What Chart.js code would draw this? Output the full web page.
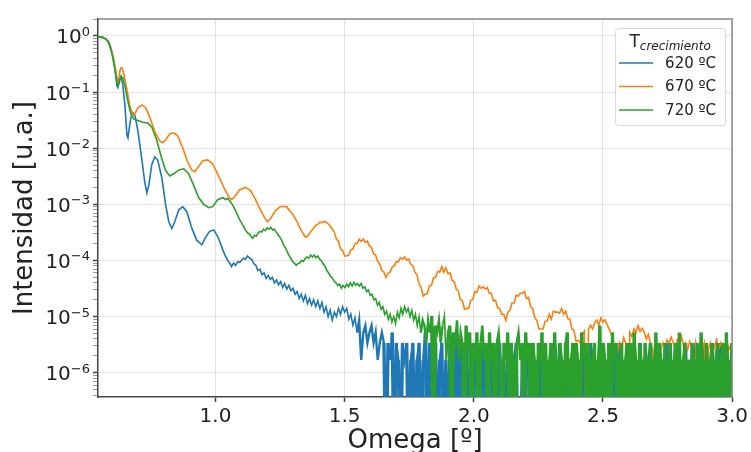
<!DOCTYPE html>
<html lang="es">
<head>
<meta charset="UTF-8">
<title>Reflectividad XRR</title>
<script src="https://cdn.jsdelivr.net/npm/chart.js"></script>
<style>
    html, body {
        margin: 0;
        padding: 0;
        background: #fff;
        overflow: hidden;
    }

    #wrap {
        width: 751px;
        height: 460px;
    }
</style>
</head>
<body>
<div id="wrap"><canvas id="xrr"></canvas></div>
<script>
    // Series: temperatura de crecimiento
    const seriesNames = ['620 ºC', '670 ºC', '720 ºC'];
    const seriesColors = ['#1f77b4', '#ff7f0e', '#2ca02c'];

    // Ejes
    const xTickValues = [1.0, 1.5, 2.0, 2.5, 3.0];
    const xTickLabels = ['1.0', '1.5', '2.0', '2.5', '3.0'];
    const yTickValues = [1e-6, 1e-5, 1e-4, 1e-3, 1e-2, 1e-1, 1];
    const yTickBase = '10';
    const yTickExponents = ['−6', '−5', '−4', '−3', '−2', '−1', '0'];
    const yMinorSteps = [2, 3, 4, 5, 6, 7, 8, 9];

    // Zona de franjas de Kiessig: pares [omega, intensidad]
    const head620 = [
        [0.545, 0.96], [0.568, 0.92], [0.584, 0.81], [0.595, 0.61], [0.607, 0.34], [0.615, 0.18],
        [0.618, 0.13], [0.622, 0.12], [0.626, 0.15], [0.634, 0.19], [0.641, 0.134], [0.649, 0.059],
        [0.657, 0.0173], [0.661, 0.0153], [0.665, 0.021], [0.672, 0.035], [0.680, 0.043], [0.688, 0.038],
        [0.699, 0.021], [0.715, 0.0062], [0.726, 0.0025], [0.734, 0.0016], [0.742, 0.0022], [0.753, 0.0051],
        [0.765, 0.0070], [0.776, 0.0062], [0.792, 0.0030], [0.807, 0.00098], [0.819, 0.00049], [0.831, 0.00037],
        [0.842, 0.00049], [0.858, 0.00080], [0.873, 0.00091], [0.889, 0.00074], [0.908, 0.00038], [0.927, 0.00023],
        [0.947, 0.00019], [0.962, 0.00026], [0.977, 0.00033], [0.993, 0.00035], [1.008, 0.00027], [1.016, 0.00022],
        [1.028, 0.000156], [1.035, 0.00013], [1.047, 0.0001], [1.055, 0.00009], [1.062, 0.000078], [1.070, 0.00009],
        [1.078, 0.000082], [1.086, 0.000095], [1.094, 0.000092]
    ];
    const head670 = [
        [0.545, 0.96], [0.560, 0.96], [0.576, 0.88], [0.587, 0.75], [0.599, 0.52], [0.611, 0.29],
        [0.618, 0.18], [0.622, 0.15], [0.626, 0.18], [0.630, 0.24], [0.634, 0.27], [0.638, 0.27],
        [0.645, 0.21], [0.657, 0.11], [0.669, 0.054], [0.680, 0.039], [0.688, 0.041], [0.699, 0.052],
        [0.715, 0.059], [0.730, 0.052], [0.746, 0.035], [0.765, 0.0196], [0.784, 0.0135], [0.796, 0.0125],
        [0.807, 0.0141], [0.823, 0.018], [0.838, 0.0188], [0.854, 0.0166], [0.873, 0.0102], [0.892, 0.0057],
        [0.908, 0.0041], [0.920, 0.0038], [0.931, 0.0045], [0.951, 0.006], [0.970, 0.0062], [0.989, 0.0053],
        [1.008, 0.0035], [1.032, 0.002], [1.051, 0.00136], [1.062, 0.00121], [1.074, 0.00136], [1.093, 0.0018],
        [1.116, 0.002], [1.136, 0.00175], [1.155, 0.00121], [1.174, 0.0008], [1.190, 0.00058], [1.201, 0.00049],
        [1.213, 0.00056], [1.232, 0.00077], [1.251, 0.00091], [1.275, 0.00091], [1.294, 0.00071]
    ];
    const head720 = [
        [0.545, 0.96], [0.560, 0.96], [0.576, 0.88], [0.587, 0.75], [0.599, 0.48], [0.611, 0.25],
        [0.618, 0.15], [0.622, 0.13], [0.626, 0.14], [0.630, 0.17], [0.634, 0.19], [0.641, 0.18],
        [0.649, 0.13], [0.661, 0.067], [0.672, 0.041], [0.684, 0.033], [0.699, 0.031], [0.719, 0.029],
        [0.738, 0.028], [0.753, 0.024], [0.772, 0.0141], [0.792, 0.0065], [0.807, 0.004], [0.823, 0.0032],
        [0.838, 0.0035], [0.858, 0.0041], [0.877, 0.0043], [0.896, 0.0035], [0.915, 0.0022], [0.935, 0.00131],
        [0.954, 0.001], [0.974, 0.00087], [0.989, 0.00091], [1.008, 0.00121], [1.028, 0.00131], [1.040, 0.00122],
        [1.047, 0.00128], [1.058, 0.0011], [1.066, 0.00098], [1.076, 0.0008], [1.085, 0.00065], [1.095, 0.00052],
        [1.105, 0.00043], [1.114, 0.00036], [1.124, 0.00031]
    ];

    // Colas ruidosas, muestreadas con paso fijo en omega (0 = sin cuentas)
    const tail620Start = 1.10, tail620Step = 0.008;
    const tail620 = [
        1.0e-4, 1.1e-4, 1.05e-4, 1.2e-4, 1.1e-4, 1.05e-4, 8.8e-5, 8.2e-5, 6.6e-5, 7.0e-5,
        5.6e-5, 6.0e-5, 4.8e-5, 5.4e-5, 4.6e-5, 5.0e-5, 4.0e-5, 4.5e-5, 3.7e-5, 4.2e-5,
        3.3e-5, 3.9e-5, 3.1e-5, 3.6e-5, 2.9e-5, 3.2e-5, 2.5e-5, 2.8e-5, 2.1e-5, 2.5e-5,
        1.9e-5, 2.4e-5, 1.7e-5, 2.1e-5, 1.6e-5, 2.0e-5, 1.5e-5, 1.9e-5, 1.4e-5, 1.8e-5,
        1.2e-5, 1.5e-5, 1.0e-5, 1.3e-5, 8.6e-6, 1.2e-5, 1.0e-5, 1.4e-5, 1.1e-5, 1.5e-5,
        1.2e-5, 1.4e-5, 9.0e-6, 1.1e-5, 7.0e-6, 9.5e-6, 5.2e-6, 8.6e-6, 1.7e-6, 5.2e-6,
        6.9e-6, 3.4e-6, 5.2e-6, 6.9e-6, 3.4e-6, 5.2e-6, 1.7e-6, 3.4e-6, 5.2e-6, 3.4e-6,
        0, 3.4e-6, 1.7e-6, 5.2e-6, 0, 3.4e-6, 1.7e-6, 0, 3.4e-6, 1.7e-6,
        3.4e-6, 0, 1.7e-6, 3.4e-6, 0, 1.7e-6, 3.4e-6, 0, 1.7e-6, 5.2e-6,
        0, 3.4e-6, 0, 1.7e-6, 3.4e-6, 0, 1.7e-6, 3.4e-6, 0, 1.7e-6,
        0, 3.4e-6, 1.7e-6, 0, 5.2e-6, 0, 3.4e-6, 1.7e-6, 0, 3.4e-6,
        0, 1.7e-6, 0, 3.4e-6, 1.7e-6, 0, 1.7e-6, 3.4e-6, 0, 0,
        1.7e-6, 3.4e-6, 0, 1.7e-6, 0, 3.4e-6, 0, 1.7e-6, 0, 3.4e-6,
        1.7e-6, 0, 1.7e-6, 3.4e-6, 0, 0, 1.7e-6, 0, 3.4e-6, 1.7e-6,
        0, 3.4e-6, 0, 1.7e-6, 0, 3.4e-6, 1.7e-6, 0, 1.7e-6, 0,
        3.4e-6, 0, 1.7e-6, 0, 3.4e-6, 0, 1.7e-6, 0, 1.7e-6, 1.7e-6,
        0, 3.4e-6, 0, 1.7e-6, 0, 3.4e-6, 0, 1.7e-6, 0, 3.4e-6,
        1.7e-6, 0, 1.7e-6, 0, 3.4e-6, 0, 1.7e-6, 0, 3.4e-6, 0,
        1.7e-6, 0, 1.7e-6, 3.4e-6, 0, 1.7e-6, 0, 3.4e-6, 0, 1.7e-6,
        0, 1.7e-6, 0, 3.4e-6, 0, 1.7e-6, 0, 1.7e-6, 3.4e-6, 0,
        1.7e-6, 0, 3.4e-6, 0, 1.7e-6, 0, 3.4e-6, 0, 1.7e-6, 0,
        3.4e-6, 1.7e-6, 0, 1.7e-6, 0, 3.4e-6, 0, 1.7e-6, 0, 1.7e-6,
        3.4e-6, 0, 1.7e-6, 0, 3.4e-6, 0, 1.7e-6, 0, 3.4e-6, 0,
        1.7e-6, 0, 3.4e-6
    ];

    const tail670Start = 1.30, tail670Step = 0.008;
    const tail670 = [
        6.6e-4, 5.6e-4, 4.9e-4, 4.0e-4, 3.4e-4, 3.0e-4, 2.6e-4, 2.7e-4, 3.0e-4, 3.4e-4,
        3.8e-4, 4.2e-4, 4.4e-4, 4.8e-4, 4.7e-4, 5.0e-4, 4.8e-4, 4.5e-4, 4.1e-4, 3.6e-4,
        3.2e-4, 2.4e-4, 2.2e-4, 1.6e-4, 1.5e-4, 1.2e-4, 1.2e-4, 1.25e-4, 1.55e-4, 1.6e-4,
        2.0e-4, 2.0e-4, 2.4e-4, 2.2e-4, 2.4e-4, 2.1e-4, 2.2e-4, 1.8e-4, 1.7e-4, 1.3e-4,
        1.25e-4, 9.5e-5, 8.6e-5, 6.6e-5, 6.2e-5, 5.0e-5, 5.9e-5, 6.2e-5, 7.6e-5, 8.0e-5,
        9.6e-5, 9.4e-5, 1.12e-4, 1.05e-4, 1.15e-4, 1.02e-4, 1.06e-4, 8.6e-5, 8.0e-5, 6.2e-5,
        5.5e-5, 3.8e-5, 3.3e-5, 2.3e-5, 2.5e-5, 2.6e-5, 3.5e-5, 3.6e-5, 4.9e-5, 5.0e-5,
        6.4e-5, 6.2e-5, 7.8e-5, 6.2e-5, 7.4e-5, 5.8e-5, 6.0e-5, 4.4e-5, 4.2e-5, 3.1e-5,
        2.9e-5, 2.0e-5, 1.9e-5, 1.35e-5, 1.4e-5, 1.4e-5, 1.95e-5, 2.0e-5, 2.8e-5, 2.7e-5,
        3.5e-5, 3.2e-5, 3.4e-5, 3.1e-5, 3.3e-5, 2.6e-5, 2.6e-5, 1.9e-5, 1.95e-5, 1.45e-5,
        1.4e-5, 1.1e-5, 1.1e-5, 8.5e-6, 1.2e-5, 1.3e-5, 1.75e-5, 1.75e-5, 2.4e-5, 2.3e-5,
        2.6e-5, 2.6e-5, 2.8e-5, 2.1e-5, 2.2e-5, 1.5e-5, 1.4e-5, 9.5e-6, 8.6e-6, 6.0e-6,
        6.0e-6, 6.0e-6, 8.2e-6, 8.4e-6, 1.1e-5, 9.0e-6, 1.25e-5, 1.2e-5, 1.2e-5, 1.15e-5,
        1.4e-5, 1.1e-5, 1.25e-5, 9.2e-6, 9.0e-6, 6.0e-6, 5.6e-6, 3.6e-6, 3.8e-6, 3.4e-6,
        4.8e-6, 5.5e-6, 0, 6.0e-6, 7.0e-6, 6.0e-6, 7.8e-6, 8.6e-6, 7.0e-6, 9.5e-6,
        8.0e-6, 8.8e-6, 7.2e-6, 6.0e-6, 5.0e-6, 3.4e-6, 2.6e-6, 2.2e-6, 3.4e-6, 2.6e-6,
        4.2e-6, 3.4e-6, 0, 5.2e-6, 4.4e-6, 6.0e-6, 5.2e-6, 6.9e-6, 5.5e-6, 6.2e-6,
        5.2e-6, 4.0e-6, 4.8e-6, 3.4e-6, 2.6e-6, 0, 2.2e-6, 1.9e-6, 2.6e-6, 3.4e-6,
        2.9e-6, 3.8e-6, 3.4e-6, 4.3e-6, 3.4e-6, 2.6e-6, 3.9e-6, 3.4e-6, 4.4e-6, 3.0e-6,
        3.4e-6, 2.6e-6, 3.6e-6, 2.9e-6, 0, 3.4e-6, 2.4e-6, 3.2e-6, 2.6e-6, 3.4e-6,
        0, 2.6e-6, 3.4e-6, 2.2e-6, 3.0e-6, 3.9e-6, 2.6e-6, 3.4e-6, 2.4e-6, 3.0e-6,
        3.4e-6, 2.6e-6, 3.2e-6
    ];

    const tail720Start = 1.13, tail720Step = 0.007;
    const tail720 = [
        3.0e-4, 2.7e-4, 2.5e-4, 2.8e-4, 2.7e-4, 3.1e-4, 3.3e-4, 3.2e-4, 3.6e-4, 3.4e-4,
        3.8e-4, 3.6e-4, 3.9e-4, 3.5e-4, 3.6e-4, 3.2e-4, 2.9e-4, 2.6e-4, 2.3e-4, 1.9e-4,
        1.7e-4, 1.45e-4, 1.25e-4, 1.1e-4, 9.6e-5, 9.0e-5, 8.2e-5, 8.8e-5, 9.0e-5, 1.0e-4,
        9.6e-5, 1.08e-4, 1.15e-4, 1.1e-4, 1.25e-4, 1.15e-4, 1.25e-4, 1.12e-4, 1.2e-4, 1.05e-4,
        1.0e-4, 8.6e-5, 8.0e-5, 6.6e-5, 6.0e-5, 5.2e-5, 4.9e-5, 4.3e-5, 4.0e-5, 3.6e-5,
        3.8e-5, 3.2e-5, 3.6e-5, 3.3e-5, 3.8e-5, 3.4e-5, 4.0e-5, 3.5e-5, 4.1e-5, 3.6e-5,
        3.9e-5, 3.5e-5, 3.9e-5, 3.2e-5, 3.4e-5, 2.8e-5, 3.0e-5, 2.4e-5, 2.5e-5, 2.0e-5,
        2.1e-5, 1.6e-5, 1.8e-5, 1.35e-5, 1.5e-5, 1.1e-5, 1.25e-5, 9.0e-6, 1.1e-5, 8.0e-6,
        1.0e-5, 7.5e-6, 1.2e-5, 9.5e-6, 1.4e-5, 1.1e-5, 1.5e-5, 1.2e-5, 1.4e-5, 1.0e-5,
        1.3e-5, 8.6e-6, 1.1e-5, 6.9e-6, 1.0e-5, 5.2e-6, 8.6e-6, 6.9e-6, 3.4e-6, 8.6e-6,
        5.2e-6, 1.03e-5, 0, 6.9e-6, 5.2e-6, 8.6e-6, 3.4e-6, 6.9e-6, 1.03e-5, 1.7e-6,
        5.2e-6, 6.9e-6, 0, 5.2e-6, 3.4e-6, 8.6e-6, 1.7e-6, 5.2e-6, 3.4e-6, 0,
        6.9e-6, 3.4e-6, 5.2e-6, 0, 3.4e-6, 1.7e-6, 5.2e-6, 0, 3.4e-6, 6.9e-6,
        1.7e-6, 3.4e-6, 0, 5.2e-6, 1.7e-6, 3.4e-6, 0, 3.4e-6, 5.2e-6, 1.7e-6,
        0, 3.4e-6, 1.7e-6, 5.2e-6, 0, 3.4e-6, 1.7e-6, 0, 3.4e-6, 5.2e-6,
        1.7e-6, 3.4e-6, 0, 5.2e-6, 1.7e-6, 3.4e-6, 0, 3.4e-6, 1.7e-6, 0,
        3.4e-6, 1.7e-6, 5.2e-6, 0, 3.4e-6, 0, 1.7e-6, 3.4e-6, 0, 5.2e-6,
        1.7e-6, 0, 3.4e-6, 1.7e-6, 0, 3.4e-6, 5.2e-6, 0, 1.7e-6, 3.4e-6,
        0, 3.4e-6, 1.7e-6, 0, 5.2e-6, 1.7e-6, 3.4e-6, 0, 3.4e-6, 0,
        1.7e-6, 3.4e-6, 0, 1.7e-6, 6.9e-6, 0, 3.4e-6, 1.7e-6, 0, 3.4e-6,
        0, 5.2e-6, 1.7e-6, 3.4e-6, 0, 1.7e-6, 3.4e-6, 0, 1.7e-6, 3.4e-6,
        0, 3.4e-6, 0, 5.2e-6, 1.7e-6, 0, 3.4e-6, 1.7e-6, 0, 3.4e-6,
        1.7e-6, 0, 3.4e-6, 0, 1.7e-6, 5.2e-6, 0, 3.4e-6, 1.7e-6, 0,
        3.4e-6, 0, 1.7e-6, 3.4e-6, 0, 1.7e-6, 3.4e-6, 0, 5.2e-6, 0,
        1.7e-6, 3.4e-6, 0, 1.7e-6, 0, 3.4e-6, 1.7e-6, 0, 3.4e-6, 0,
        5.2e-6, 1.7e-6, 0, 3.4e-6, 0, 1.7e-6, 3.4e-6, 0, 1.7e-6, 3.4e-6,
        0, 1.7e-6, 3.4e-6, 0, 5.2e-6, 1.7e-6, 0, 3.4e-6
    ];

    const FONT = 'DejaVu Sans';
    const TEXT = '#222';
    const SPINE = '#444';
    const GRID = 'rgba(0, 0, 0, 0.11)';
    const belowAxis = 1e-8; // cero cuentas: queda por debajo del eje logarítmico

    function buildSeries(head, start, step, tail) {
        const pts = head.map(p => ({ x: p[0], y: p[1] }));
        tail.forEach((v, i) => {
            pts.push({ x: +(start + i * step).toFixed(4), y: v > 0 ? v : belowAxis });
        });
        return pts;
    }

    // En el régimen de pocas cuentas el trazo se engrosa: caídas a cero y tramos bajos
    const countWidth = c => {
        const a = c.p0.parsed.y, b = c.p1.parsed.y;
        if (a <= belowAxis || b <= belowAxis) return 3.4;
        if (a < 9e-6 && b < 9e-6) return 2.4;
        return undefined;
    };

    // Marcas del eje log: décadas (mayores) y 2..9 (menores)
    const yTicks = [];
    [1e-7, ...yTickValues].forEach(d => {
        yTicks.push({ value: d, major: true });
        yMinorSteps.forEach(m => yTicks.push({ value: m * d, major: false }));
    });

    // Recuadro superior y derecho del área de trazado
    const frame = {
        id: 'frame',
        afterDatasetsDraw(chart) {
            const { ctx, chartArea: a } = chart;
            ctx.save();
            ctx.strokeStyle = '#888';
            ctx.lineWidth = 1.5;
            ctx.beginPath();
            ctx.moveTo(a.left, a.top);
            ctx.lineTo(a.right, a.top);
            ctx.lineTo(a.right, a.bottom);
            ctx.stroke();
            ctx.restore();
        }
    };

    // Etiquetas 10^n con exponente elevado
    const powerLabels = {
        id: 'powerLabels',
        afterDraw(chart) {
            const { ctx } = chart;
            const ys = chart.scales.y;
            const right = ys.right - 8;
            ctx.save();
            ctx.fillStyle = TEXT;
            ctx.textAlign = 'right';
            ctx.textBaseline = 'alphabetic';
            yTickValues.forEach((v, k) => {
                const py = ys.getPixelForValue(v);
                ctx.font = `13px "${FONT}"`;
                const ew = ctx.measureText(yTickExponents[k]).width;
                ctx.fillText(yTickExponents[k], right, py);
                ctx.font = `20px "${FONT}"`;
                ctx.fillText(yTickBase, right - ew, py + 7.5);
            });
            ctx.restore();
        }
    };

    // Leyenda con título T_crecimiento
    const legendBox = {
        id: 'legendBox',
        afterDraw(chart) {
            const { ctx, chartArea: a } = chart;
            const w = 110, h = 97;
            const x = a.right - 7 - w, y = a.top + 9;
            ctx.save();
            ctx.fillStyle = 'rgba(255, 255, 255, 0.85)';
            ctx.strokeStyle = '#d8d8d8';
            ctx.lineWidth = 1;
            ctx.beginPath();
            ctx.roundRect(x + 0.5, y + 0.5, w, h, 3);
            ctx.fill();
            ctx.stroke();

            ctx.fillStyle = TEXT;
            ctx.textBaseline = 'alphabetic';
            ctx.font = `17px "${FONT}"`;
            const tW = ctx.measureText('T').width;
            ctx.font = `italic 12px "${FONT}"`;
            const sW = ctx.measureText('crecimiento').width;
            const tx = x + w / 2 - (tW + sW) / 2;
            ctx.font = `17px "${FONT}"`;
            ctx.fillText('T', tx, y + 19);
            ctx.font = `italic 12px "${FONT}"`;
            ctx.fillText('crecimiento', tx + tW, y + 22);

            ctx.font = `15px "${FONT}"`;
            ctx.textBaseline = 'middle';
            seriesNames.forEach((name, k) => {
                const ly = y + 35 + k * 23.5;
                ctx.strokeStyle = seriesColors[k];
                ctx.lineWidth = 1.6;
                ctx.beginPath();
                ctx.moveTo(x + 4, ly);
                ctx.lineTo(x + 38, ly);
                ctx.stroke();
                ctx.fillText(name, x + 50, ly + 1);
            });
            ctx.restore();
        }
    };

    new Chart(document.getElementById('xrr'), {
        type: 'line',
        data: {
            datasets: [
                {
                    label: seriesNames[0],
                    data: buildSeries(head620, tail620Start, tail620Step, tail620),
                    borderColor: seriesColors[0],
                    segment: { borderWidth: countWidth },
                    order: 3
                },
                {
                    label: seriesNames[1],
                    data: buildSeries(head670, tail670Start, tail670Step, tail670),
                    borderColor: seriesColors[1],
                    order: 2
                },
                {
                    label: seriesNames[2],
                    data: buildSeries(head720, tail720Start, tail720Step, tail720),
                    borderColor: seriesColors[2],
                    segment: { borderWidth: countWidth },
                    order: 1
                }
            ]
        },
        options: {
            responsive: true,
            maintainAspectRatio: false,
            animation: false,
            parsing: false,
            normalized: true,
            datasets: { line: { clip: 0 } },
            elements: {
                line: { borderWidth: 1.6, tension: 0, fill: false },
                point: { radius: 0 }
            },
            layout: { padding: { top: 19, right: 18, bottom: 0, left: 0 } },
            plugins: {
                legend: { display: false },
                tooltip: { enabled: false }
            },
            scales: {
                x: {
                    type: 'linear',
                    min: 0.545,
                    max: 3.0,
                    afterBuildTicks: s => { s.ticks = xTickValues.map(v => ({ value: v })); },
                    afterFit: s => { s.height = 63; },
                    ticks: {
                        callback: (v, i) => xTickLabels[i],
                        font: { family: FONT, size: 20 },
                        color: TEXT,
                        padding: 3,
                        maxRotation: 0,
                        autoSkip: false
                    },
                    grid: { color: GRID, lineWidth: 1, tickLength: 5, tickColor: SPINE, tickWidth: 1.5 },
                    border: { color: SPINE, width: 1.5 },
                    title: {
                        display: true,
                        text: 'Omega [º]',
                        font: { family: FONT, size: 26 },
                        color: TEXT,
                        padding: { top: 0, bottom: 3 }
                    }
                },
                y: {
                    type: 'logarithmic',
                    min: 3.7e-7,
                    max: 2.0,
                    afterBuildTicks: s => { s.ticks = yTicks.filter(t => t.value >= s.min && t.value <= s.max).map(t => ({ ...t })); },
                    afterFit: s => { s.width = 98; },
                    ticks: {
                        callback: () => '',
                        font: { family: FONT, size: 20 },
                        padding: 3,
                        autoSkip: false
                    },
                    grid: {
                        color: c => (c.tick && c.tick.major ? GRID : 'rgba(0,0,0,0)'),
                        lineWidth: 1,
                        tickLength: 5,
                        tickColor: c => (c.tick && c.tick.major ? SPINE : '#999'),
                        tickWidth: c => (c.tick && c.tick.major ? 1.5 : 1)
                    },
                    border: { color: SPINE, width: 1.5 },
                    title: {
                        display: true,
                        text: 'Intensidad [u.a.]',
                        font: { family: FONT, size: 26 },
                        color: TEXT,
                        padding: { top: 10, bottom: 0 }
                    }
                }
            }
        },
        plugins: [frame, powerLabels, legendBox]
    });
</script>
</body>
</html>
